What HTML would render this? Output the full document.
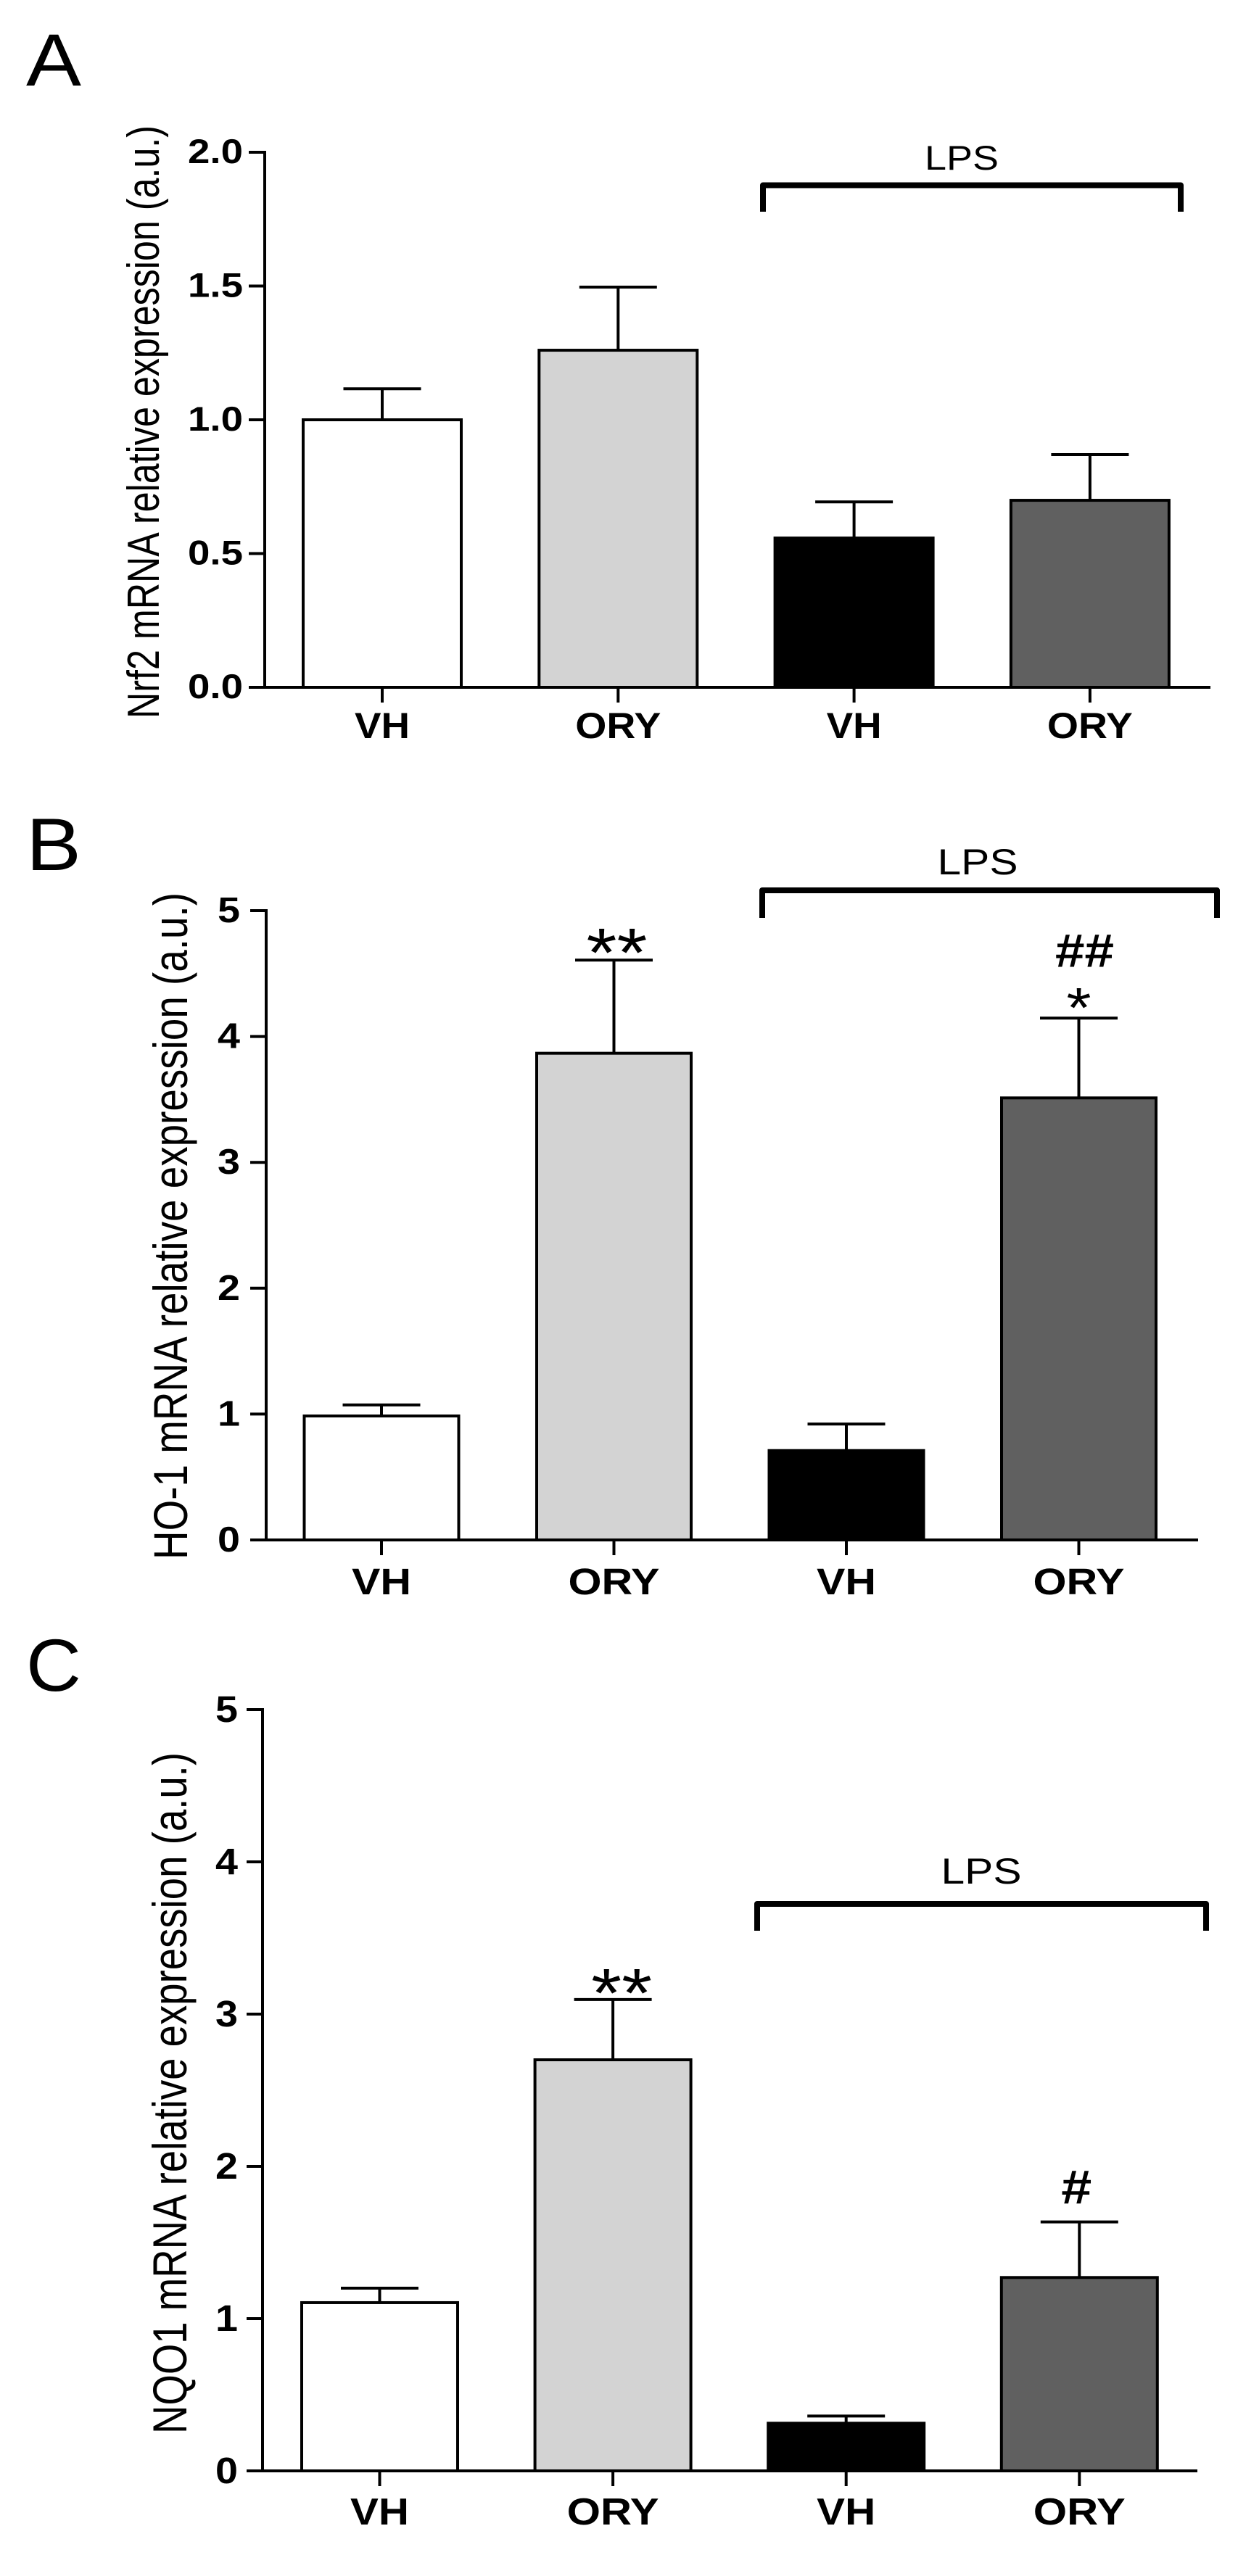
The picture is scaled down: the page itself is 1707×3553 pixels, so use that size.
<!DOCTYPE html>
<html lang="en">
<head>
<meta charset="utf-8">
<title>Nrf2, HO-1 and NQO1 mRNA relative expression</title>
<style>
html,body{margin:0;padding:0;background:#fff;width:1707px;height:3553px;overflow:hidden}
svg{display:block}
text{font-family:"Liberation Sans",Arial,sans-serif;fill:#000}
</style>
</head>
<body>
<svg id="figure" xmlns="http://www.w3.org/2000/svg" width="1707" height="3553" viewBox="0 0 1707 3553"></svg>
<script>
const categories = ['VH', 'ORY', 'VH', 'ORY'];
const barColors = ['#ffffff', '#d3d3d3', '#000000', '#606060'];

const nrf2Values = [1.0, 1.26, 0.558, 0.699];
const nrf2Errors = [0.116, 0.236, 0.135, 0.171];
const nrf2Ticks = ['0.0', '0.5', '1.0', '1.5', '2.0'];

const ho1Values = [0.985, 3.867, 0.71, 3.512];
const ho1Errors = [0.088, 0.74, 0.211, 0.634];
const ho1Ticks = ['0', '1', '2', '3', '4', '5'];

const nqo1Values = [1.105, 2.70, 0.313, 1.27];
const nqo1Errors = [0.095, 0.396, 0.047, 0.365];
const nqo1Ticks = ['0', '1', '2', '3', '4', '5'];

const SVG_NS = 'http://www.w3.org/2000/svg';
const root = document.getElementById('figure');

function line(parent, x1, y1, x2, y2, w) {
  const el = document.createElementNS(SVG_NS, 'line');
  el.setAttribute('x1', x1);
  el.setAttribute('y1', y1);
  el.setAttribute('x2', x2);
  el.setAttribute('y2', y2);
  el.setAttribute('stroke', '#000');
  el.setAttribute('stroke-width', w);
  parent.appendChild(el);
  return el;
}

function label(parent, str, x, y, size, weight, len) {
  const el = document.createElementNS(SVG_NS, 'text');
  el.textContent = str;
  el.setAttribute('x', x);
  el.setAttribute('y', y);
  el.setAttribute('font-size', size);
  el.setAttribute('font-weight', weight);
  el.setAttribute('text-anchor', 'middle');
  if (len) {
    el.setAttribute('textLength', len);
    el.setAttribute('lengthAdjust', 'spacingAndGlyphs');
  }
  parent.appendChild(el);
  return el;
}

function drawPanel(p) {
  const g = document.createElementNS(SVG_NS, 'g');
  
  
  root.appendChild(g);

  const maxTick = parseFloat(p.ticks[p.ticks.length - 1]);
  const yScale = v => p.y0 - (v / maxTick) * (p.y0 - p.yTop);
  const xScale = i => p.x0 + i * p.step;

  const letter = label(g, p.letter, p.letterX, p.letterY, 102, 400, p.letterW);
  
  

  p.values.forEach((v, i) => {
    const cx = xScale(i);
    const top = yScale(v + p.errors[i]);

    const stem = line(g, cx, yScale(v), cx, top, 4);
    
    

    const cap = line(g, cx - 53.5, top, cx + 53.5, top, 4);
    
    

    const bar = document.createElementNS(SVG_NS, 'rect');
    bar.setAttribute('x', cx - p.barW / 2);
    bar.setAttribute('y', yScale(v));
    bar.setAttribute('width', p.barW);
    bar.setAttribute('height', p.y0 - yScale(v));
    bar.setAttribute('fill', barColors[i]);
    bar.setAttribute('stroke', '#000');
    bar.setAttribute('stroke-width', 4);
    
    
    g.appendChild(bar);

    const xt = line(g, cx, p.y0, cx, p.y0 + 21, 4);
    
    

    const xl = label(g, categories[i], cx, p.catY, p.catSize, 700, i % 2 ? p.oryW : p.vhW);
    
    
  });

  const yAxis = line(g, p.axisX, p.yTop - 2, p.axisX, p.y0 + 2, 4);
  
  

  const xAxis = line(g, p.axisX, p.y0, p.axisRight, p.y0, 4);
  
  

  p.ticks.forEach(t => {
    const y = yScale(parseFloat(t));
    const tk = line(g, p.axisX - 22, y, p.axisX, y, 4);
    
    

    const len = t.length > 1 ? 76 : 31;
    const tl = label(g, t, p.tickRight - len / 2, y + p.tickDy, p.tickSize, 700, len);
    
    
  });

  const title = label(g, p.title, 0, 0, p.titleSize, 400, p.titleLen);
  title.setAttribute('transform', 'translate(' + p.titleX + ' ' + p.titleY + ') rotate(-90)');
  
  

  const bracket = document.createElementNS(SVG_NS, 'path');
  bracket.setAttribute('d', 'M' + p.brL + ' ' + p.brB + 'V' + p.brT + 'H' + p.brR + 'V' + p.brB);
  bracket.setAttribute('fill', 'none');
  bracket.setAttribute('stroke', '#000');
  bracket.setAttribute('stroke-width', 8);
  bracket.setAttribute('stroke-linejoin', 'round');
  
  
  g.appendChild(bracket);

  const lps = label(g, 'LPS', p.lpsX, p.lpsY, p.lpsSize, 400, p.lpsW);
  
  

  p.marks.forEach(m => {
    const errTop = yScale(p.values[m.bar] + p.errors[m.bar]);
    const mk = label(g, m.text, xScale(m.bar) + m.dx, errTop + m.dy, m.size, m.weight, m.len);
    
    
  });
}

drawPanel({
  name: 'panel-a-nrf2', letter: 'A', letterX: 74, letterY: 118, letterW: 76,
  values: nrf2Values, errors: nrf2Errors, ticks: nrf2Ticks,
  x0: 527, step: 325.3, barW: 218, y0: 948, yTop: 210, axisX: 365, axisRight: 1669,
  tickRight: 335, tickDy: 15, tickSize: 47, catY: 1018, catSize: 50, vhW: 76, oryW: 118,
  title: 'Nrf2 mRNA relative expression (a.u.)', titleSize: 62, titleLen: 818, titleX: 219, titleY: 582,
  brL: 1052, brR: 1628, brT: 255.5, brB: 292, lpsX: 1326, lpsY: 234, lpsSize: 47, lpsW: 102,
  marks: []
});

drawPanel({
  name: 'panel-b-ho1', letter: 'B', letterX: 74, letterY: 1200, letterW: 76,
  values: ho1Values, errors: ho1Errors, ticks: ho1Ticks,
  x0: 526, step: 320.5, barW: 213, y0: 2124, yTop: 1256, axisX: 367, axisRight: 1652,
  tickRight: 331, tickDy: 16, tickSize: 49, catY: 2199, catSize: 51, vhW: 82, oryW: 126,
  title: 'HO-1 mRNA relative expression (a.u.)', titleSize: 66, titleLen: 920, titleX: 258, titleY: 1691,
  brL: 1051, brR: 1678, brT: 1228, brB: 1266, lpsX: 1348, lpsY: 1206, lpsSize: 50, lpsW: 111,
  marks: [
    { bar: 1, text: '**', dx: 4, dy: 23, size: 96, weight: 400, len: 84 },
    { bar: 3, text: '##', dx: 8, dy: -71, size: 65, weight: 700, len: 81 },
    { bar: 3, text: '*', dx: 0, dy: 12, size: 78, weight: 400, len: 34 }
  ]
});

drawPanel({
  name: 'panel-c-nqo1', letter: 'C', letterX: 74, letterY: 2332, letterW: 76,
  values: nqo1Values, errors: nqo1Errors, ticks: nqo1Ticks,
  x0: 523.5, step: 321.6, barW: 215, y0: 3408, yTop: 2358, axisX: 362, axisRight: 1651,
  tickRight: 328, tickDy: 17, tickSize: 51, catY: 3482, catSize: 52, vhW: 81, oryW: 127,
  title: 'NQO1 mRNA relative expression (a.u.)', titleSize: 66, titleLen: 940, titleX: 257, titleY: 2887,
  brL: 1044, brR: 1663, brT: 2626, brB: 2663, lpsX: 1353, lpsY: 2598, lpsSize: 50, lpsW: 111,
  marks: [
    { bar: 1, text: '**', dx: 12, dy: 24, size: 96, weight: 400, len: 84 },
    { bar: 3, text: '#', dx: -4, dy: -25, size: 66, weight: 700, len: 42 }
  ]
});
</script>
</body>
</html>
